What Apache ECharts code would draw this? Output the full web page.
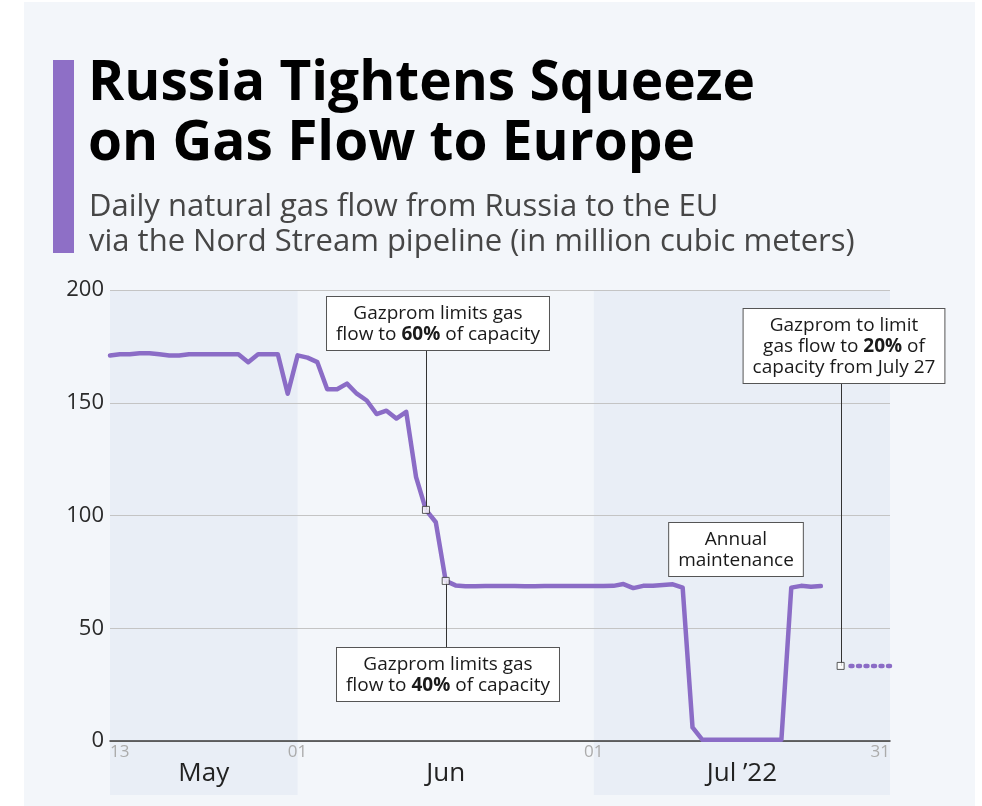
<!DOCTYPE html>
<html><head><meta charset="utf-8">
<script src="https://cdn.jsdelivr.net/npm/echarts@6/dist/echarts.min.js"></script>
<style>html,body{margin:0;padding:0;background:#fff}#c{width:982px;height:806px}</style>
</head><body><div id="c"></div>
<script>
// ---------- DATA ----------
// Daily flow May 13 .. Jul 24, 2022 (million m³)
const flowMay = [171,171.5,171.5,172,172,171.5,171,171,171.5,171.5,171.5,171.5,171.5,171.5,168,171.5,171.5,171.5,154];
const flowJun = [171,170,168,156,156,158.5,154,151,145,146.5,143,146,117,102.5,97,71,69,68.6,68.6,68.7,68.7,68.7,68.7,68.6,68.6,68.7,68.7,68.7,68.7,68.7];
const flowJul = [68.7,68.7,68.8,69.6,67.8,68.8,68.9,69.2,69.5,68,6,0.5,0.5,0.5,0.5,0.5,0.5,0.5,0.5,0.5,68,68.8,68.4,68.7];
const projDates = ['2022-07-27','2022-07-28','2022-07-29','2022-07-30','2022-07-31'];
const projFlow = [33.3,33.3,33.3,33.3,33.3];
const yTicks = [0,50,100,150,200];
const xTickDates = ['2022-05-13','2022-06-01','2022-07-01','2022-07-31'];
const xTickLabels = ['13','01','01','31'];
const monthLabels = ['May','Jun','Jul \u201922'];
const monthShaded = [true,false,true];
const annotDates = ['2022-06-14','2022-06-16','2022-07-26'];
const annotValues = [102.5,71,33.3];

// ---------- BUILD ----------
const DAY0 = Date.UTC(2022,4,13);
const dayIdx = s => { const p=s.split('-').map(Number); return Math.round((Date.UTC(p[0],p[1]-1,p[2])-DAY0)/86400000); };
const flow = flowMay.concat(flowJun, flowJul);
const lineData = flow.map((v,i)=>[i,v]);
const projData = projDates.map((d,i)=>[dayIdx(d),projFlow[i]]);
const annotData = annotDates.map((d,i)=>[dayIdx(d),annotValues[i]]);
const xTickIdx = xTickDates.map(dayIdx);
const PURPLE = '#8b6cc6';
const FONT = '"Open Sans", "Noto Sans", sans-serif';

const chart = echarts.init(document.getElementById('c'), null, {renderer:'canvas'});
const option = {
  backgroundColor:'#ffffff',
  animation:false,
  grid:{left:110,right:92,top:290,bottom:65},
  xAxis:{
    type:'value',
    min:xTickIdx[0], max:xTickIdx[xTickIdx.length-1],
    axisLine:{show:true,onZero:false,lineStyle:{color:'#3a3a3a',width:1.5}},
    axisTick:{show:false},
    splitLine:{show:false},
    axisLabel:{
      customValues:xTickIdx,
      formatter:v=>{const k=xTickIdx.indexOf(Math.round(v));return k>=0?xTickLabels[k]:'';},
      color:'#ababab',fontSize:17,fontFamily:FONT,margin:3,
      alignMinLabel:'left',alignMaxLabel:'right'
    }
  },
  yAxis:{
    type:'value',min:yTicks[0],max:yTicks[yTicks.length-1],interval:50,
    axisLine:{show:false},axisTick:{show:false},
    axisLabel:{color:'#2a2a2a',fontSize:22,fontFamily:FONT,margin:6},
    splitLine:{lineStyle:{color:'#c4c4c4',width:1}}
  },
  series:[
    {type:'line',data:lineData,showSymbol:false,symbol:'none',z:3,
     lineStyle:{color:PURPLE,width:4.5,join:'round',cap:'round'}},
    {type:'line',data:projData,showSymbol:false,symbol:'none',z:3,
     lineStyle:{color:PURPLE,width:4.5,type:[2,5.5],cap:'round'}},
    {type:'scatter',data:annotData,symbol:'rect',symbolSize:7,z:5,
     itemStyle:{color:'#fff',borderColor:'#333',borderWidth:1}}
  ]
};
chart.setOption(option);

const P = (d,v)=>chart.convertToPixel({xAxisIndex:0,yAxisIndex:0},[d,v]);
const top200 = P(0,200)[1];
const g = [];
g.push({type:'rect',z:-20,shape:{x:24,y:2,width:951,height:806},style:{fill:'#f3f6fa'},silent:true});
const bounds = xTickIdx.map(d=>P(d,0)[0]);
for(let i=0;i<monthLabels.length;i++){
  const x0=bounds[i], x1=bounds[i+1];
  if(monthShaded[i]) g.push({type:'rect',z:-10,shape:{x:x0,y:top200,width:x1-x0,height:795-top200},style:{fill:'#e9eef6'},silent:true});
  g.push({type:'text',z:5,x:(x0+x1)/2,y:774,style:{text:monthLabels[i],fill:'#222',font:'26px '+FONT,align:'center',verticalAlign:'middle'}});
}
g.push({type:'rect',z:5,shape:{x:53,y:60,width:21,height:193},style:{fill:'#8e6fc6'}});
g.push({type:'text',z:5,x:88,y:54,style:{text:'Russia Tightens Squeeze\non Gas Flow to Europe',fill:'#000',font:'bold 55px '+FONT,lineHeight:60}});
g.push({type:'text',z:5,x:89,y:190,style:{text:'Daily natural gas flow from Russia to the EU\nvia the Nord Stream pipeline (in million cubic meters)',fill:'#464646',font:'31px '+FONT,lineHeight:35}});

const LH=21, PT=6, PB=5;
const rich = {b:{fontWeight:'bold',fontSize:19,fontFamily:FONT,fill:'#1a1a1a',lineHeight:LH}};
function box(cx,top,text){
  return {type:'text',z:6,x:cx,y:top,style:{text:text,rich:rich,fill:'#1a1a1a',font:'19px '+FONT,lineHeight:LH,
    align:'center',verticalAlign:'top',backgroundColor:'#fff',borderColor:'#555',borderWidth:1,padding:[PT,9,PB,9]}};
}
const boxBottom=(top,n)=>top+n*LH+PT+PB;
function vline(x,y1,y2){return {type:'line',z:4,shape:{x1:x,y1:y1,x2:x,y2:y2},style:{stroke:'#333',lineWidth:1}};}
const a0=P(annotData[0][0],annotData[0][1]), a1=P(annotData[1][0],annotData[1][1]), a2=P(annotData[2][0],annotData[2][1]);
g.push(vline(Math.round(a0[0])+0.5,boxBottom(297,2),a0[1]));
g.push(vline(Math.round(a1[0])+0.5,a1[1],648));
g.push(vline(Math.round(a2[0])+0.5,boxBottom(309,3),a2[1]));
g.push(box(438,297,'Gazprom limits gas\nflow to {b|60%} of capacity'));
g.push(box(448,648,'Gazprom limits gas\nflow to {b|40%} of capacity'));
g.push(box(844,309,'Gazprom to limit\ngas flow to {b|20%} of\ncapacity from July 27'));
g.push(box(736,523,'Annual\nmaintenance'));
chart.setOption({graphic:g});
</script></body></html>
